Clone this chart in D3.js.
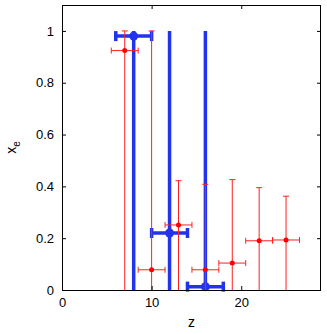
<!DOCTYPE html>
<html>
<head>
<meta charset="utf-8">
<script src="https://cdn.jsdelivr.net/npm/d3@7"></script>
<style>
  body { margin: 0; background: #fff; }
  text { font-family: "Liberation Sans", Arial, sans-serif; }
</style>
</head>
<body>
<div id="chart"></div>
<script>
// blue series: point, horizontal range, vertical range
const blueZ = [8, 12, 16];
const blueX = [0.98, 0.22, 0.013];
const blueZlo = [6, 10, 14];
const blueZhi = [10, 14, 18];
const blueXlo = [0, 0, 0];
const blueXhi = [1, 1, 1];

// red series
const redZ = [7, 10, 13, 16, 19, 22, 25];
const redX = [0.924, 0.078, 0.251, 0.078, 0.104, 0.19, 0.193];
const redZerr = [1.5, 1.5, 1.5, 1.5, 1.5, 1.5, 1.5];
const redXlo = [0, 0, 0, 0, 0, 0, 0];
const redXhi = [1, 1, 0.422, 0.408, 0.426, 0.395, 0.362];

const xTicks = [0, 10, 20];
const yTicks = [0, 0.2, 0.4, 0.6, 0.8, 1];

const width = 327, height = 334;
const margin = {top: 5, right: 6, bottom: 44, left: 62};

const svg = d3.select("#chart").append("svg")
  .attr("width", width)
  .attr("height", height);

const x = d3.scaleLinear().domain([0, 28.9]).range([margin.left, width - margin.right]);
const y = d3.scaleLinear().domain([0, 1.1]).range([height - margin.bottom, margin.top]);

const blue = blueZ.map((z, i) => ({z, v: blueX[i], zlo: blueZlo[i], zhi: blueZhi[i], vlo: blueXlo[i], vhi: blueXhi[i]}));
const red = redZ.map((z, i) => ({z, v: redX[i], zlo: z - redZerr[i], zhi: z + redZerr[i], vlo: redXlo[i], vhi: redXhi[i]}));

// blue error bars
const gb = svg.append("g").attr("stroke", "#2233ee").attr("stroke-width", 3.5);
gb.selectAll(".v").data(blue).enter().append("line")
  .attr("x1", d => x(d.z)).attr("x2", d => x(d.z))
  .attr("y1", d => y(d.vlo)).attr("y2", d => y(d.vhi));
gb.selectAll(".h").data(blue).enter().append("line")
  .attr("x1", d => x(d.zlo)).attr("x2", d => x(d.zhi))
  .attr("y1", d => y(d.v)).attr("y2", d => y(d.v));
gb.selectAll(".cl").data(blue).enter().append("line")
  .attr("x1", d => x(d.zlo)).attr("x2", d => x(d.zlo))
  .attr("y1", d => y(d.v) - 5).attr("y2", d => y(d.v) + 5);
gb.selectAll(".cr").data(blue).enter().append("line")
  .attr("x1", d => x(d.zhi)).attr("x2", d => x(d.zhi))
  .attr("y1", d => y(d.v) - 5).attr("y2", d => y(d.v) + 5);
svg.append("g").selectAll("circle").data(blue).enter().append("circle")
  .attr("cx", d => x(d.z)).attr("cy", d => y(d.v)).attr("r", 4.5)
  .attr("fill", "#2233ee");

// red error bars
const gr = svg.append("g").attr("stroke", "#ff2020").attr("stroke-width", 1);
gr.selectAll(".v").data(red).enter().append("line")
  .attr("x1", d => x(d.z)).attr("x2", d => x(d.z))
  .attr("y1", d => y(d.vlo)).attr("y2", d => y(d.vhi));
gr.selectAll(".ct").data(red).enter().append("line")
  .attr("x1", d => x(d.z) - 3).attr("x2", d => x(d.z) + 3)
  .attr("y1", d => y(d.vhi)).attr("y2", d => y(d.vhi));
gr.selectAll(".h").data(red).enter().append("line")
  .attr("x1", d => x(d.zlo)).attr("x2", d => x(d.zhi))
  .attr("y1", d => y(d.v)).attr("y2", d => y(d.v));
gr.selectAll(".cl").data(red).enter().append("line")
  .attr("x1", d => x(d.zlo)).attr("x2", d => x(d.zlo))
  .attr("y1", d => y(d.v) - 3).attr("y2", d => y(d.v) + 3);
gr.selectAll(".cr").data(red).enter().append("line")
  .attr("x1", d => x(d.zhi)).attr("x2", d => x(d.zhi))
  .attr("y1", d => y(d.v) - 3).attr("y2", d => y(d.v) + 3);
svg.append("g").selectAll("circle").data(red).enter().append("circle")
  .attr("cx", d => x(d.z)).attr("cy", d => y(d.v)).attr("r", 2.5)
  .attr("fill", "#ff0000");

// axes with inward ticks on all four sides
const x0 = margin.left, x1 = width - margin.right;
const y0 = height - margin.bottom, y1 = margin.top;

svg.append("g").attr("transform", `translate(0,${y0})`)
  .call(d3.axisBottom(x).tickValues(xTicks).tickSize(-4).tickPadding(8).tickSizeOuter(0))
  .call(g => g.select(".domain").remove());
svg.append("g").attr("transform", `translate(0,${y1})`)
  .call(d3.axisTop(x).tickValues(xTicks).tickSize(-4).tickFormat("").tickSizeOuter(0))
  .call(g => g.select(".domain").remove());
svg.append("g").attr("transform", `translate(${x0},0)`)
  .call(d3.axisLeft(y).tickValues(yTicks).tickSize(-4).tickPadding(8).tickSizeOuter(0).tickFormat(d3.format("")))
  .call(g => g.select(".domain").remove());
svg.append("g").attr("transform", `translate(${x1},0)`)
  .call(d3.axisRight(y).tickValues(yTicks).tickSize(-4).tickFormat("").tickSizeOuter(0))
  .call(g => g.select(".domain").remove());

svg.selectAll(".tick text").attr("font-size", 13).attr("fill", "#000")
  .style("font-family", "'Liberation Sans', Arial, sans-serif");

svg.append("rect")
  .attr("x", x0 + 0.5).attr("y", y1 + 0.5)
  .attr("width", x1 - x0 - 1).attr("height", y0 - y1)
  .attr("fill", "none").attr("stroke", "#000").attr("stroke-width", 1);

// labels
svg.append("text")
  .attr("x", (x0 + x1) / 2).attr("y", 327)
  .attr("text-anchor", "middle").attr("font-size", 14)
  .text("z");

const yl = svg.append("text")
  .attr("transform", `translate(16,${y(0.55)}) rotate(-90)`)
  .attr("text-anchor", "middle").attr("font-size", 14);
yl.append("tspan").text("x");
yl.append("tspan").attr("dy", 4).attr("font-size", 10).text("e");
</script>
</body>
</html>
